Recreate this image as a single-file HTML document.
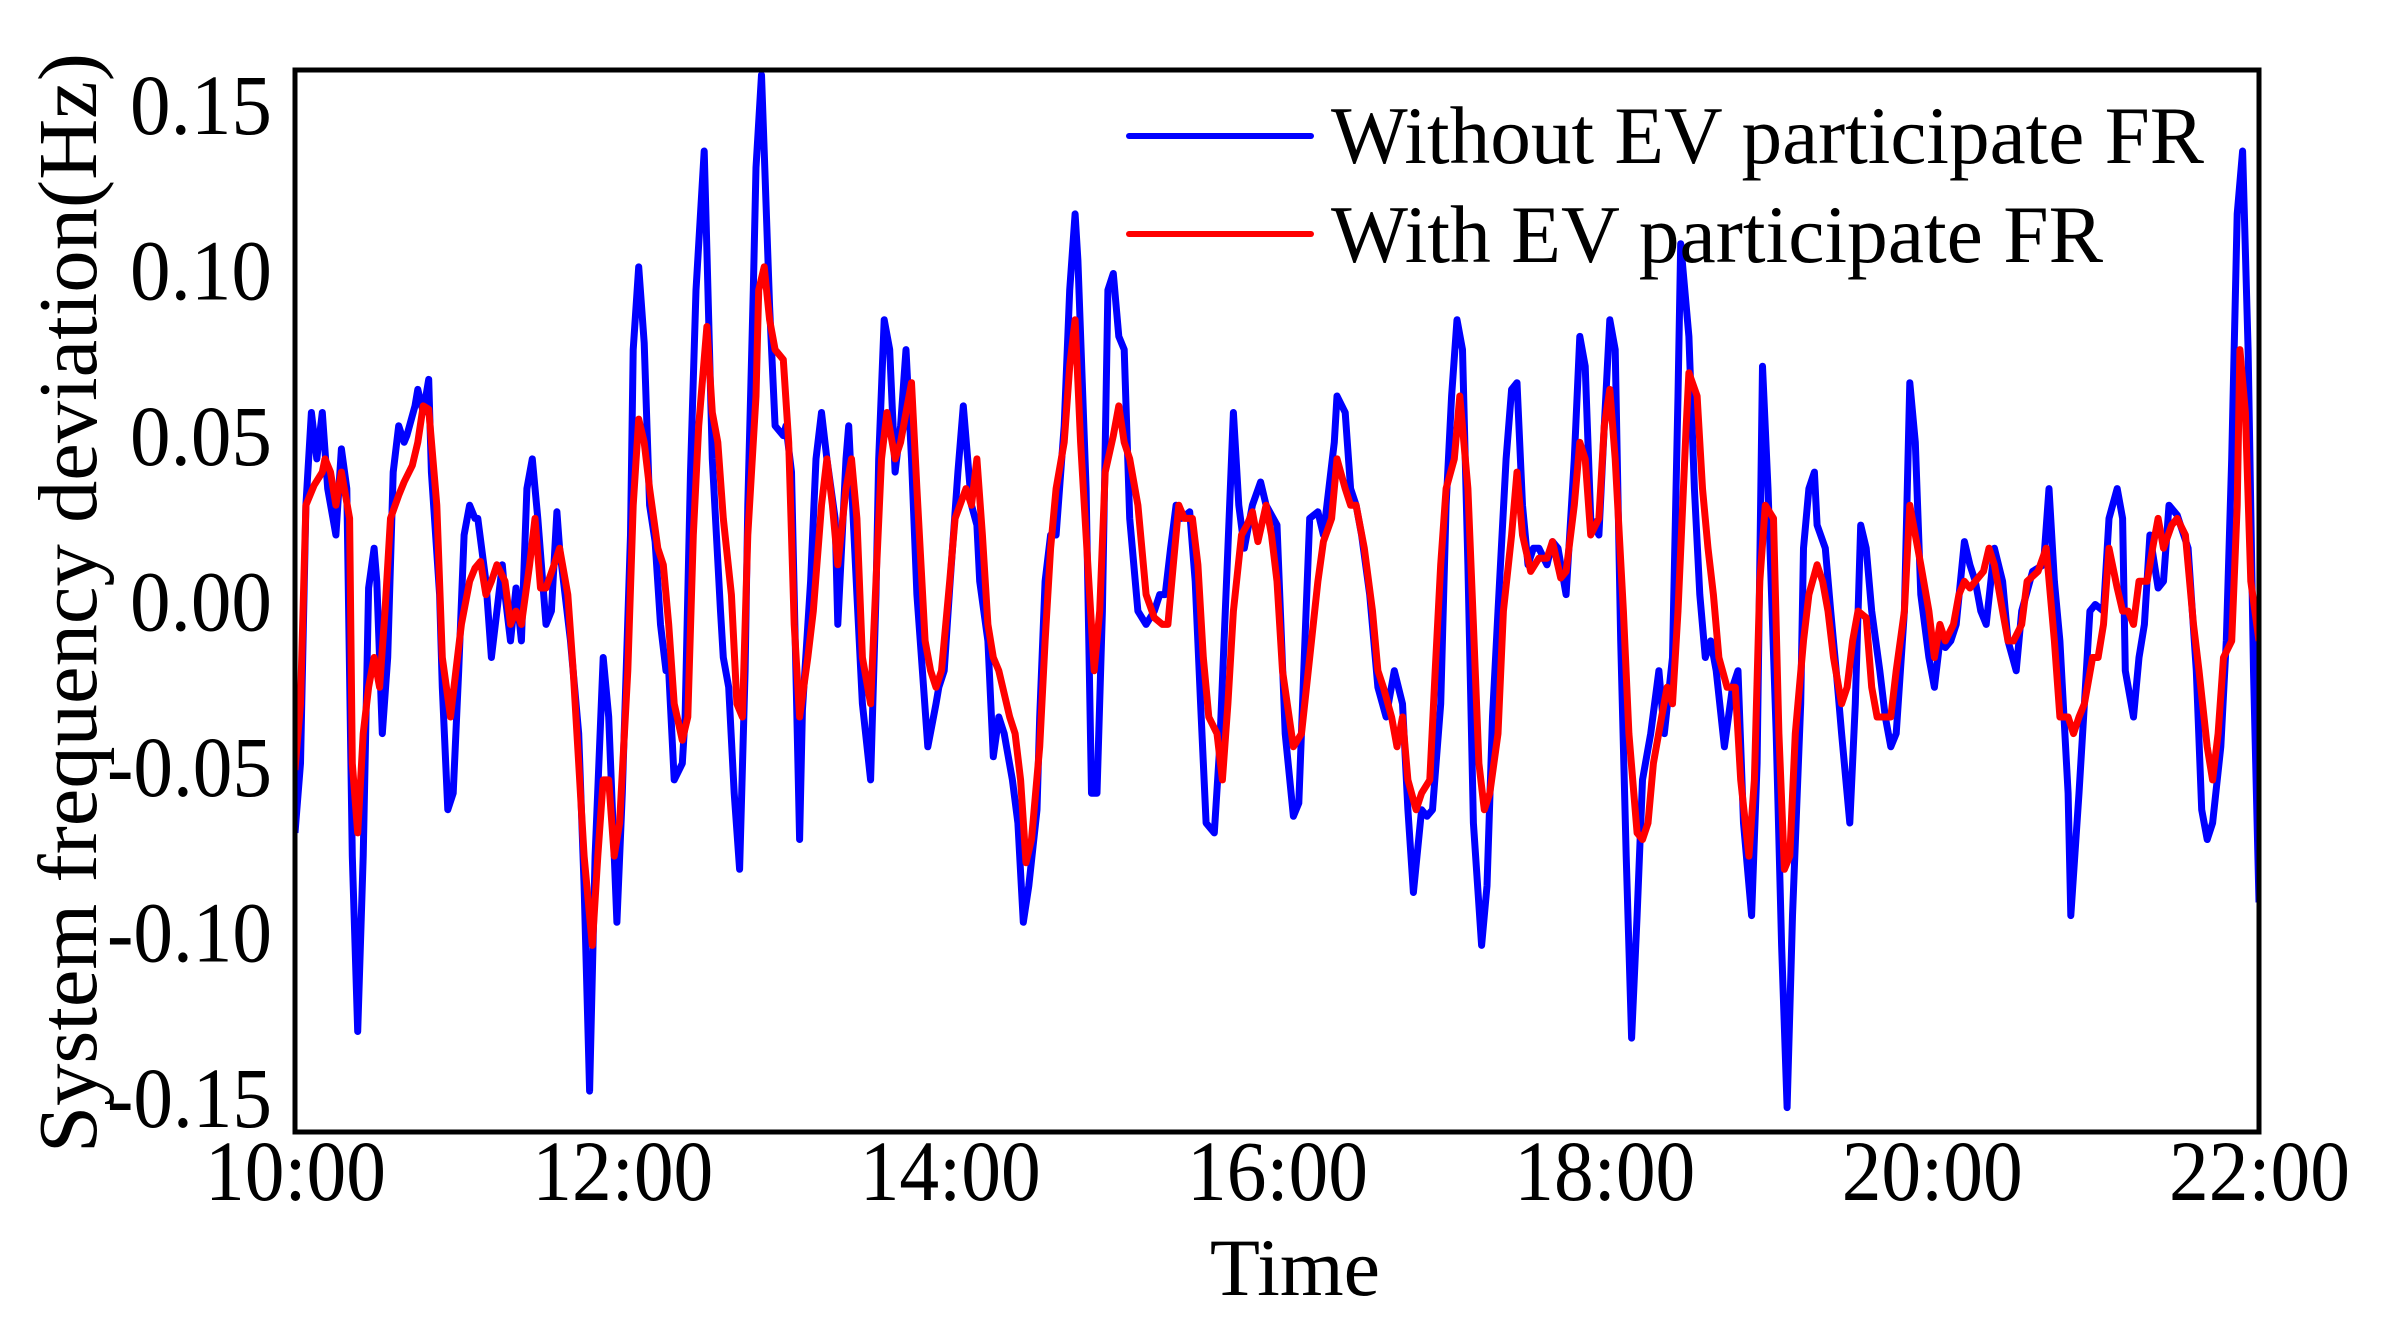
<!DOCTYPE html>
<html><head><meta charset="utf-8"><style>
html,body{margin:0;padding:0;background:#fff;}
svg{display:block;font-family:"Liberation Serif",serif;}
</style></head><body>
<svg id="chart" width="2383" height="1326" viewBox="0 0 2383 1326" xmlns="http://www.w3.org/2000/svg">
<rect x="0" y="0" width="2383" height="1326" fill="#fff"/>
<g id="lines"></g>
<rect x="295" y="70" width="1964" height="1062" fill="none" stroke="#000" stroke-width="5"/>
<g id="yticks"></g>
<g id="xticks"></g>
<text x="1295" y="1295" font-size="82" text-anchor="middle">Time</text>
<text transform="translate(96,603) rotate(-90)" font-size="84" text-anchor="middle" textLength="1100" lengthAdjust="spacingAndGlyphs">System frequency deviation(Hz)</text>
<g>
<line x1="1129" y1="136" x2="1311" y2="136" stroke="#0000ff" stroke-width="6" stroke-linecap="round"/>
<text x="1331" y="163" font-size="82" textLength="873" lengthAdjust="spacingAndGlyphs">Without EV participate FR</text>
<line x1="1129" y1="234" x2="1311" y2="234" stroke="#ff0000" stroke-width="6" stroke-linecap="round"/>
<text x="1331" y="262" font-size="82" textLength="772" lengthAdjust="spacingAndGlyphs">With EV participate FR</text>
</g>
</svg>
<script>
// time in minutes after 10:00, deviation in mHz
const blueMinutes=[0,2,4,6,8,10,12,15,17,19,21,23,25,27,29,30,32,34,36,38,40,41,44,45,47,49,50,53,54,56,58,60,62,64,66,67,70,72,74,76,77,79,81,83,85,87,89,92,94,96,97,101,104,106,108,110,113,115,118,120,123,124,126,128,130,132,134,136,137,139,142,143,145,147,150,151,153,156,157,159,161,163,165,166,168,169,171,172,174,176,179,180,182,185,186,189,191,193,195,198,199,202,203,206,208,211,213,214,216,218,220,222,224,226,228,230,232,235,236,238,240,243,245,248,250,251,254,256,258,260,263,265,267,269,272,273,275,277,279,282,284,286,287,290,292,294,296,298,300,302,304,306,309,312,315,317,319,321,323,325,328,330,332,334,337,339,342,344,346,348,351,354,356,360,363,366,368,370,372,375,377,381,382,385,387,389,391,394,397,400,403,406,408,410,413,415,417,420,422,424,426,428,430,432,435,437,439,441,444,446,448,450,452,454,456,459,461,463,466,469,471,473,475,478,480,482,484,486,488,490,492,494,497,500,502,505,507,508,511,513,515,517,519,521,524,527,529,531,534,536,538,540,543,545,547,549,552,553,555,557,558,561,563,565,567,570,572,574,576,578,581,583,585,587,590,592,594,596,599,601,603,605,607,609,612,614,616,618,620,623,626,628,631,633,637,641,643,645,647,650,651,654,656,658,660,663,665,668,670,671,674,676,678,680,683,685,687,690,694,697,699,701,703,706,708,710,712,714,716,718,720];
const blueMilliHz=[-69,-48,30,58,44,58,35,21,47,35,-76,-129,-76,5,17,7,-39,-16,40,54,49,51,60,65,58,68,40,3,-25,-62,-57,-20,21,30,26,26,7,-16,-2,12,3,-11,5,-11,35,44,26,-6,-2,28,17,-11,-39,-85,-147,-76,-16,-34,-96,-57,21,77,102,79,30,19,-6,-20,-20,-53,-48,-34,40,95,137,107,44,-2,-16,-25,-57,-80,-20,30,95,132,160,137,90,54,51,54,40,-71,-32,7,44,58,44,26,-6,44,54,3,-30,-53,3,44,86,77,40,54,77,44,3,-20,-43,-30,-25,-20,5,40,60,30,24,7,-11,-46,-34,-39,-53,-66,-96,-85,-62,-34,7,21,21,54,95,118,104,35,-57,-57,-2,95,100,81,77,26,-2,-6,-2,3,3,17,30,26,28,7,-30,-66,-69,-43,17,58,30,17,30,37,30,24,-39,-64,-60,-16,26,28,21,49,63,58,35,30,21,3,-25,-34,-20,-30,-62,-87,-62,-64,-62,-30,30,63,86,77,12,-66,-103,-85,-34,-2,44,65,67,30,12,17,17,12,19,17,3,44,81,72,26,21,54,86,77,-11,-76,-131,-94,-53,-39,-20,-39,-16,63,109,81,35,3,-16,-11,-20,-43,-25,-20,-66,-94,-48,72,35,-39,-103,-152,-94,-30,17,35,40,24,17,-2,-20,-39,-66,-30,24,17,-2,-20,-34,-43,-39,-2,67,49,3,-16,-25,-11,-13,-11,-6,19,12,7,-2,-6,17,7,-11,-20,-2,10,12,35,7,-11,-57,-94,-57,-30,-2,0,-2,26,35,26,-20,-34,-16,-6,21,5,7,30,27,17,-20,-62,-71,-66,-43,-11,44,118,137,77,-20,-90];
const redMinutes=[0,2,4,7,10,11,13,15,17,20,21,23,25,27,29,31,33,35,38,40,43,45,47,49,52,54,57,59,61,64,66,68,70,72,74,77,79,81,83,86,88,90,92,95,97,100,102,104,106,109,111,113,115,117,119,122,124,126,128,130,133,135,137,139,142,144,146,148,151,153,155,157,160,162,164,166,169,170,172,174,176,179,181,183,185,188,190,193,195,197,199,202,204,206,208,211,213,215,217,220,222,224,226,228,231,233,235,237,240,242,246,248,250,252,254,256,258,262,264,266,268,270,273,275,277,279,282,284,286,288,291,293,295,297,300,302,304,306,309,312,315,318,320,322,324,326,329,331,333,335,338,340,342,344,347,349,351,353,356,358,360,362,366,369,372,375,377,380,382,385,387,389,392,395,397,399,402,404,406,408,411,413,416,418,420,422,425,427,430,432,434,436,438,441,443,446,448,450,453,456,459,461,464,466,469,471,473,475,478,480,482,484,487,489,492,494,496,498,501,503,505,507,510,511,514,516,518,520,522,525,528,530,533,535,537,539,542,544,546,548,550,553,555,558,560,562,564,567,569,571,573,576,578,580,582,585,587,590,592,594,596,599,601,603,605,608,610,612,614,616,619,621,623,626,628,630,633,635,639,642,645,647,650,652,654,656,659,661,663,665,668,670,672,674,676,679,681,683,685,688,690,693,696,698,701,703,705,707,710,712,713,715,717,720];
const redMilliHz=[-50,-30,30,36,40,44,40,30,40,26,-48,-69,-39,-25,-16,-25,-2,26,33,37,42,49,60,59,30,-16,-34,-20,-6,7,11,13,3,7,12,7,-6,-2,-6,12,26,5,5,12,17,3,-20,-48,-76,-103,-76,-53,-53,-76,-66,-20,30,56,49,35,17,12,-6,-30,-41,-34,21,54,84,58,49,26,3,-30,-34,21,63,95,102,86,77,74,49,-6,-34,-16,-2,30,44,30,12,35,44,26,-16,-30,7,44,58,44,49,58,67,35,-11,-20,-25,-20,7,26,35,30,44,21,-6,-16,-20,-34,-39,-53,-78,-71,-43,-11,17,35,49,72,86,49,7,-20,-2,40,51,60,49,44,30,3,-4,-6,-6,12,30,26,26,12,-16,-34,-39,-53,-30,-2,21,24,28,19,30,21,7,-20,-43,-39,-16,7,19,26,44,35,30,30,17,-2,-20,-25,-34,-43,-34,-53,-62,-57,-53,-20,12,35,44,63,35,-6,-48,-62,-57,-39,-2,21,40,21,10,14,14,19,8,10,30,49,44,21,26,54,65,44,-2,-39,-69,-71,-66,-48,-34,-25,-30,-2,54,70,63,35,17,3,-16,-25,-25,-53,-76,-53,7,30,26,-39,-80,-76,-39,-11,3,12,7,-2,-16,-30,-25,-11,-2,-4,-25,-34,-34,-34,-20,-2,30,21,12,-2,-16,-6,-11,-6,3,7,5,7,10,17,12,-2,-11,-11,-6,7,10,17,-11,-34,-34,-39,-34,-30,-16,-16,-6,17,5,-2,-2,-6,7,7,17,26,17,24,26,21,-6,-20,-43,-53,-39,-16,-11,30,77,58,7,-11];
const yTickValues=[0.15,0.10,0.05,0.00,-0.05,-0.10,-0.15];
const yTickLabels=["0.15","0.10","0.05","0.00","-0.05","-0.10","-0.15"];
const xTickMinutes=[0,120,240,360,480,600,720];
const xTickLabels=["10:00","12:00","14:00","16:00","18:00","20:00","22:00"];

const NS="http://www.w3.org/2000/svg";
function xScale(m){return 295+m/720*1964;}
function yScale(hz){return 604.5-hz*3310;}
function makePath(times,vals,color,name){
  const n=Math.min(times.length,vals.length);
  let d="";
  for(let i=0;i<n;i++){d+=(i?"L":"M")+xScale(times[i]).toFixed(1)+","+yScale(vals[i]/1000).toFixed(1);}
  const p=document.createElementNS(NS,"path");
  p.setAttribute("d",d);p.setAttribute("fill","none");p.setAttribute("stroke",color);
  p.setAttribute("stroke-width","7");p.setAttribute("stroke-linejoin","round");
  
  
  document.getElementById("lines").appendChild(p);
}
const clip=document.createElementNS(NS,"clipPath");clip.setAttribute("id","pc");
const cr=document.createElementNS(NS,"rect");cr.setAttribute("x","295");cr.setAttribute("y","70");cr.setAttribute("width","1964");cr.setAttribute("height","1062");
clip.appendChild(cr);document.getElementById("chart").appendChild(clip);
document.getElementById("lines").setAttribute("clip-path","url(#pc)");
makePath(blueMinutes,blueMilliHz,"#0000ff","series-without-ev");
makePath(redMinutes,redMilliHz,"#ff0000","series-with-ev");
const yg=document.getElementById("yticks");
yTickValues.forEach((v,i)=>{
  const t=document.createElementNS(NS,"text");
  t.setAttribute("x","272");t.setAttribute("y",(yScale(v)+26).toFixed(1));
  t.setAttribute("font-size","86");t.setAttribute("text-anchor","end");
  t.setAttribute("textLength",yTickLabels[i].length>4?"165":"142");
  t.setAttribute("lengthAdjust","spacingAndGlyphs");
  t.textContent=yTickLabels[i];
  
  
  yg.appendChild(t);
});
const xg=document.getElementById("xticks");
xTickMinutes.forEach((m,i)=>{
  const t=document.createElementNS(NS,"text");
  t.setAttribute("x",(xScale(m)-90).toFixed(1));t.setAttribute("y","1200");
  t.setAttribute("font-size","86");
  t.setAttribute("textLength","181");t.setAttribute("lengthAdjust","spacingAndGlyphs");
  t.textContent=xTickLabels[i];
  
  
  xg.appendChild(t);
});
</script>
</body></html>
